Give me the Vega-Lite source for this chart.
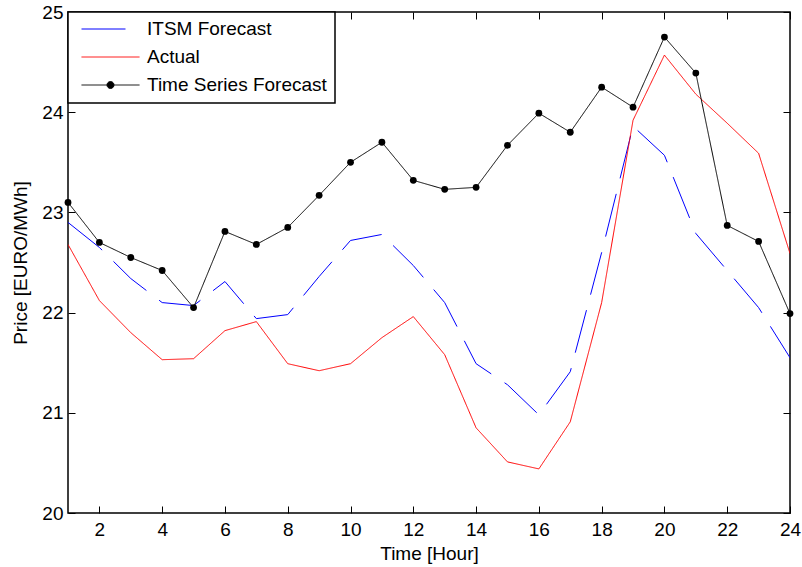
{
  "$schema": "https://vega.github.io/schema/vega-lite/v6.json",
  "width": 722,
  "height": 501,
  "autosize": {"type": "none"},
  "padding": {"left": 68, "top": 12, "right": 12, "bottom": 54},
  "background": "white",
  "config": {
    "view": {"stroke": "black", "strokeWidth": 1.5},
    "font": "Liberation Sans",
    "axis": {"grid": false, "domain": false, "tickColor": "black", "tickSize": -7, "tickWidth": 1, "labelFont": "Liberation Sans", "labelFontSize": 19, "labelColor": "black", "titleFont": "Liberation Sans", "titleFontSize": 19, "titleColor": "black", "titleFontWeight": "normal"}
  },
  "datasets": {
    "main": [
      {"hour": 1, "series": "ITSM Forecast", "price": 22.90},
      {"hour": 2, "series": "ITSM Forecast", "price": 22.65},
      {"hour": 3, "series": "ITSM Forecast", "price": 22.34},
      {"hour": 4, "series": "ITSM Forecast", "price": 22.10},
      {"hour": 5, "series": "ITSM Forecast", "price": 22.07},
      {"hour": 6, "series": "ITSM Forecast", "price": 22.31},
      {"hour": 7, "series": "ITSM Forecast", "price": 21.94},
      {"hour": 8, "series": "ITSM Forecast", "price": 21.98},
      {"hour": 9, "series": "ITSM Forecast", "price": 22.36},
      {"hour": 10, "series": "ITSM Forecast", "price": 22.72},
      {"hour": 11, "series": "ITSM Forecast", "price": 22.78},
      {"hour": 12, "series": "ITSM Forecast", "price": 22.47},
      {"hour": 13, "series": "ITSM Forecast", "price": 22.10},
      {"hour": 14, "series": "ITSM Forecast", "price": 21.49},
      {"hour": 15, "series": "ITSM Forecast", "price": 21.28},
      {"hour": 16, "series": "ITSM Forecast", "price": 20.98},
      {"hour": 17, "series": "ITSM Forecast", "price": 21.41},
      {"hour": 18, "series": "ITSM Forecast", "price": 22.60},
      {"hour": 19, "series": "ITSM Forecast", "price": 23.86},
      {"hour": 20, "series": "ITSM Forecast", "price": 23.57},
      {"hour": 21, "series": "ITSM Forecast", "price": 22.79},
      {"hour": 22, "series": "ITSM Forecast", "price": 22.42},
      {"hour": 23, "series": "ITSM Forecast", "price": 22.05},
      {"hour": 24, "series": "ITSM Forecast", "price": 21.55},
      {"hour": 1, "series": "Actual", "price": 22.68},
      {"hour": 2, "series": "Actual", "price": 22.12},
      {"hour": 3, "series": "Actual", "price": 21.80},
      {"hour": 4, "series": "Actual", "price": 21.53},
      {"hour": 5, "series": "Actual", "price": 21.54},
      {"hour": 6, "series": "Actual", "price": 21.82},
      {"hour": 7, "series": "Actual", "price": 21.91},
      {"hour": 8, "series": "Actual", "price": 21.49},
      {"hour": 9, "series": "Actual", "price": 21.42},
      {"hour": 10, "series": "Actual", "price": 21.49},
      {"hour": 11, "series": "Actual", "price": 21.75},
      {"hour": 12, "series": "Actual", "price": 21.96},
      {"hour": 13, "series": "Actual", "price": 21.58},
      {"hour": 14, "series": "Actual", "price": 20.85},
      {"hour": 15, "series": "Actual", "price": 20.51},
      {"hour": 16, "series": "Actual", "price": 20.44},
      {"hour": 17, "series": "Actual", "price": 20.91},
      {"hour": 18, "series": "Actual", "price": 22.10},
      {"hour": 19, "series": "Actual", "price": 23.92},
      {"hour": 20, "series": "Actual", "price": 24.57},
      {"hour": 21, "series": "Actual", "price": 24.18},
      {"hour": 22, "series": "Actual", "price": 23.89},
      {"hour": 23, "series": "Actual", "price": 23.59},
      {"hour": 24, "series": "Actual", "price": 22.59},
      {"hour": 1, "series": "Time Series Forecast", "price": 23.10},
      {"hour": 2, "series": "Time Series Forecast", "price": 22.70},
      {"hour": 3, "series": "Time Series Forecast", "price": 22.55},
      {"hour": 4, "series": "Time Series Forecast", "price": 22.42},
      {"hour": 5, "series": "Time Series Forecast", "price": 22.05},
      {"hour": 6, "series": "Time Series Forecast", "price": 22.81},
      {"hour": 7, "series": "Time Series Forecast", "price": 22.68},
      {"hour": 8, "series": "Time Series Forecast", "price": 22.85},
      {"hour": 9, "series": "Time Series Forecast", "price": 23.17},
      {"hour": 10, "series": "Time Series Forecast", "price": 23.50},
      {"hour": 11, "series": "Time Series Forecast", "price": 23.70},
      {"hour": 12, "series": "Time Series Forecast", "price": 23.32},
      {"hour": 13, "series": "Time Series Forecast", "price": 23.23},
      {"hour": 14, "series": "Time Series Forecast", "price": 23.25},
      {"hour": 15, "series": "Time Series Forecast", "price": 23.67},
      {"hour": 16, "series": "Time Series Forecast", "price": 23.99},
      {"hour": 17, "series": "Time Series Forecast", "price": 23.80},
      {"hour": 18, "series": "Time Series Forecast", "price": 24.25},
      {"hour": 19, "series": "Time Series Forecast", "price": 24.05},
      {"hour": 20, "series": "Time Series Forecast", "price": 24.75},
      {"hour": 21, "series": "Time Series Forecast", "price": 24.39},
      {"hour": 22, "series": "Time Series Forecast", "price": 22.87},
      {"hour": 23, "series": "Time Series Forecast", "price": 22.71},
      {"hour": 24, "series": "Time Series Forecast", "price": 21.99}
    ]
  },
  "data": {"name": "main"},
  "resolve": {"axis": {"x": "independent", "y": "independent"}},
  "layer": [
    {
      "mark": {"type": "line", "strokeWidth": 1, "clip": true},
      "encoding": {
        "x": {"field": "hour", "type": "quantitative", "scale": {"domain": [1, 24], "nice": false, "zero": false},
              "axis": {"orient": "bottom", "title": "Time [Hour]", "values": [2,4,6,8,10,12,14,16,18,20,22,24], "labelPadding": 14, "titlePadding": 5, "labelFlush": false}},
        "y": {"field": "price", "type": "quantitative", "scale": {"domain": [20, 25], "nice": false, "zero": false},
              "axis": {"orient": "left", "title": "Price [EURO/MWh]", "values": [20,21,22,23,24,25], "labelPadding": 12, "titlePadding": 11, "labelFlush": false}},
        "color": {"field": "series", "type": "nominal",
                  "scale": {"domain": ["ITSM Forecast", "Actual", "Time Series Forecast"], "range": ["#0000ff", "#ff0000", "#000000"]},
                  "legend": {"orient": "top-left", "offset": 0, "title": null, "strokeColor": "black", "fillColor": "white", "padding": 8,
                             "symbolSize": 3364, "symbolStrokeWidth": 1, "symbolOffset": 5, "labelOffset": 7, "symbolType": "stroke", "labelLimit": 400,
                             "labelFont": "Liberation Sans", "labelFontSize": 19, "labelColor": "black", "clipHeight": 18, "rowPadding": 9,
                             "encode": {
                               "symbols": {"update": {
                                 "shape": {"signal": "datum.value === 'Time Series Forecast' ? 'M-1,0H1M0.12,0A0.12,0.12,0,1,1,-0.12,0A0.12,0.12,0,1,1,0.12,0Z' : 'stroke'"},
                                 "fill": {"signal": "datum.value === 'Time Series Forecast' ? 'black' : 'transparent'"}
                               }},
                               "legend": {"update": {"strokeWidth": {"value": 1.5}}}
                             }}},
        "strokeDash": {"field": "series", "type": "nominal",
                       "scale": {"domain": ["ITSM Forecast", "Actual", "Time Series Forecast"], "range": [[44, 16], [1, 0], [1, 0]]},
                       "legend": {"orient": "top-left", "title": null}}
      }
    },
    {
      "transform": [{"filter": "datum.series === 'Time Series Forecast'"}],
      "mark": {"type": "point", "filled": true, "size": 46, "color": "black", "opacity": 1, "shape": "circle"},
      "encoding": {
        "x": {"field": "hour", "type": "quantitative", "axis": {"orient": "top", "title": null, "labels": false, "values": [2,4,6,8,10,12,14,16,18,20,22,24]}},
        "y": {"field": "price", "type": "quantitative", "axis": {"orient": "right", "title": null, "labels": false, "values": [20,21,22,23,24,25]}}
      }
    }
  ]
}
